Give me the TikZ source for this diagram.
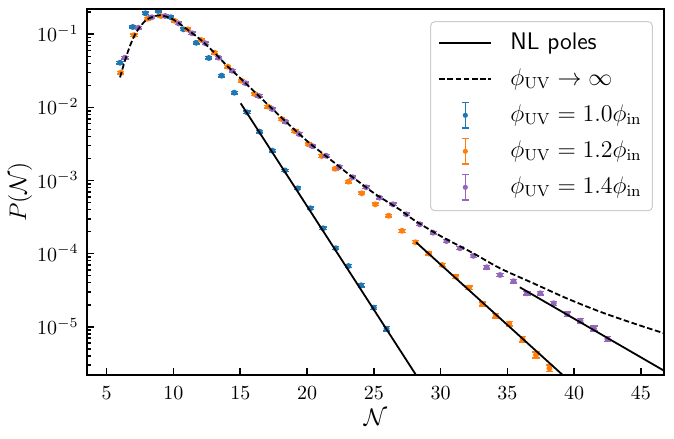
\documentclass[tikz,border=0pt]{standalone}
\usepackage{amsmath}
\definecolor{cblue}{HTML}{1F77B4}
\definecolor{corange}{HTML}{FF7F0E}
\definecolor{cpurple}{HTML}{9467BD}
\tikzset{
    spine/.style={line width=1pt},
    tickmark/.style={line width=0.8pt},
    tail/.style={line width=0.9pt},
    limitline/.style={line width=0.9pt, dash pattern=on 2.8pt off 1.3pt},
    ticklabel/.style={inner sep=0pt, font=\fontsize{10}{12}\selectfont},
    axislabel/.style={inner sep=0pt, font=\fontsize{12}{14}\selectfont},
    leglabel/.style={inner sep=0pt, anchor=west, font=\fontsize{12}{14}\selectfont},
}
\newcommand{\errpt}[3]{%
    \pgfmathsetmacro{\errh}{0.016+0.05*10^(-0.5*(#3)-3)}
    \draw[#1, line width=0.7pt]
        (#2,#3-\errh)--(#2,#3+\errh)
        (#2,#3-\errh) ++(-1.8pt,0pt)--++(3.6pt,0pt)
        (#2,#3+\errh) ++(-1.8pt,0pt)--++(3.6pt,0pt);
    \fill[#1]
        (#2,#3) circle[radius=1.5pt];
}
\newcommand{\legerr}[2]{%
    \draw[#1, line width=0.7pt]
        (31.85,#2) ++(0pt,-6.4pt)--++(0pt,12.8pt)
        (31.85,#2) ++(-1.9pt,-6.4pt)--++(3.8pt,0pt)
        (31.85,#2) ++(-1.9pt,6.4pt)--++(3.8pt,0pt);
    \fill[#1]
        (31.85,#2) circle[radius=1.3pt];
}
\begin{document}
\begin{tikzpicture}[x=6.6785pt, y=36.55pt]
    \useasboundingbox (-2.988,-6.536) rectangle (47.473,-0.5308);
    \begin{scope}
        \clip (3.525,-5.661) rectangle (46.72,-0.654);
        \foreach \k in {1,...,6}
            \foreach \m in {2,...,9}
                \draw[tickmark]
                    (3.525,{log10(\m)-\k})--++(2pt,0pt);
        \foreach \x/\y in {6.00/-1.389, 6.95/-0.900, 7.90/-0.713, 8.85/-0.681,
            9.80/-0.767, 10.75/-0.932, 11.70/-1.116, 12.65/-1.324, 13.60/-1.566,
            14.55/-1.799, 15.50/-2.067, 16.45/-2.332, 17.40/-2.592, 18.35/-2.863,
            19.30/-3.107, 20.25/-3.380, 21.20/-3.654, 22.15/-3.927, 23.10/-4.170,
            24.05/-4.434, 25.00/-4.740, 25.95/-5.027}
            \errpt{cblue}{\x}{\y};
        \foreach \x/\y in {6.05/-1.525, 7.05/-1.012, 8.06/-0.787, 9.06/-0.750,
            10.06/-0.814, 11.07/-0.932, 12.07/-1.078, 13.07/-1.252, 14.07/-1.443,
            15.08/-1.635, 16.08/-1.817, 17.08/-1.990, 18.09/-2.159, 19.09/-2.326,
            20.09/-2.503, 21.10/-2.665, 22.10/-2.839, 23.10/-3.016, 24.10/-3.175,
            25.11/-3.326, 26.11/-3.482, 27.11/-3.688, 28.12/-3.845, 29.12/-3.999,
            30.12/-4.156, 31.13/-4.316, 32.13/-4.467, 33.13/-4.690, 34.13/-4.850,
            35.14/-4.959, 36.14/-5.173, 37.14/-5.388, 38.15/-5.570}
            \errpt{corange}{\x}{\y};
        \foreach \x/\y in {6.37/-1.320, 7.37/-0.910, 8.38/-0.767, 9.38/-0.750,
            10.38/-0.850, 11.39/-0.986, 12.39/-1.123, 13.39/-1.320, 14.39/-1.498,
            15.40/-1.670, 16.40/-1.844, 17.40/-2.022, 18.41/-2.196, 19.41/-2.364,
            20.41/-2.531, 21.42/-2.661, 22.42/-2.815, 23.42/-2.956, 24.42/-3.093,
            25.43/-3.235, 26.43/-3.326, 27.43/-3.462, 28.44/-3.599, 29.44/-3.714,
            30.44/-3.828, 31.45/-3.927, 32.45/-4.030, 33.45/-4.187, 34.45/-4.293,
            35.46/-4.378, 36.46/-4.543, 37.46/-4.543, 38.47/-4.680, 39.47/-4.829,
            40.47/-4.918, 41.48/-5.025, 42.48/-5.169}
            \errpt{cpurple}{\x}{\y};
        \draw[tail]
            (15.03,-1.944)--(29,-5.899);
        \draw[tail]
            (28.16,-3.845)--(40,-5.803);
        \draw[tail]
            (35.93,-4.461)--(47,-5.631);
        \draw[limitline]
            plot[smooth] coordinates {(6.0,-1.59) (6.3,-1.40) (6.74,-1.16)
            (7.25,-0.96) (8.0,-0.80) (9.0,-0.74) (10.0,-0.80) (11.0,-0.93)
            (12.0,-1.07) (13.0,-1.24) (14.0,-1.43) (15.0,-1.60) (16.0,-1.775)
            (17.0,-1.95) (18.0,-2.125) (19.0,-2.295) (20.0,-2.46) (21.0,-2.607)
            (22.0,-2.75) (23.0,-2.897) (24.0,-3.035) (25.0,-3.172) (26.0,-3.29)
            (27.0,-3.405) (28.0,-3.54) (30.0,-3.76) (32.45,-3.996) (34.45,-4.201)
            (36.94,-4.406) (39.44,-4.612) (41.94,-4.795) (44.42,-4.953)
            (46.72,-5.09)};
    \end{scope}
    \foreach \x in {5,10,...,45}{
        \draw[tickmark]
            (\x,-5.661)--++(0pt,3.5pt);
        \node[ticklabel, anchor=north] (xt\x) at ([yshift=-5.5pt]\x,-5.661) {$\x$};
    }
    \foreach \k in {1,...,5}{
        \draw[tickmark]
            (3.525,-\k)--++(3.5pt,0pt);
        \node[ticklabel, anchor=base east] (yt\k) at ([xshift=-4pt,yshift=-3.8pt]3.525,-\k) {$10^{-\k}$};
    }
    \draw[spine]
        (3.525,-5.661) rectangle (46.72,-0.654);
    \node[axislabel] (xlabel) at (25.12,-6.235) {$\mathcal{N}$};
    \node[axislabel, rotate=90] (ylabel) at (-1.49,-3.1575) {$P(\mathcal{N})$};
    \draw[rounded corners=2pt, draw=black!20, fill=white, fill opacity=0.8, line width=0.5pt]
        (29.26,-3.413) rectangle (45.85,-0.828);
    \draw[tail]
        (29.89,-1.123)--(33.75,-1.123);
    \node[leglabel] (legpoles) at (35.19,-1.123) {\sffamily NL poles};
    \draw[limitline]
        (29.89,-1.6155)--(33.75,-1.6155);
    \node[leglabel] (leglimit) at (35.19,-1.6155) {$\phi_{\mathrm{UV}}\to\infty$};
    \legerr{cblue}{-2.108}
    \node[leglabel] (legone) at (35.19,-2.108) {$\phi_{\mathrm{UV}}=1.0\phi_{\mathrm{in}}$};
    \legerr{corange}{-2.6005}
    \node[leglabel] (legtwo) at (35.19,-2.6005) {$\phi_{\mathrm{UV}}=1.2\phi_{\mathrm{in}}$};
    \legerr{cpurple}{-3.093}
    \node[leglabel] (legfour) at (35.19,-3.093) {$\phi_{\mathrm{UV}}=1.4\phi_{\mathrm{in}}$};
\end{tikzpicture}
\end{document}
